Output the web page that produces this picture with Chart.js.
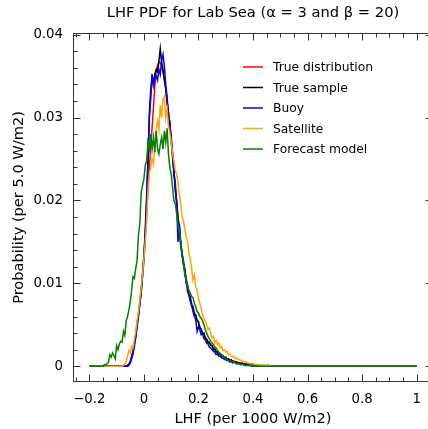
<!DOCTYPE html>
<html><head><meta charset="utf-8">
<script src="https://cdn.jsdelivr.net/npm/chart.js@4/dist/chart.umd.min.js"></script>
<style>
html,body{margin:0;padding:0;background:#fff;overflow:hidden;width:428px;height:429px}
#wrap{position:relative;width:434px;height:429px}
</style>
</head><body><div id="wrap"><canvas id="c" width="434" height="429"></canvas></div>
<script>
// ---- data (values in units of 1e-4 probability per 0.005-wide bin) ----
const titleText = 'LHF PDF for Lab Sea (\u03b1 = 3 and \u03b2 = 20)';
const xLabel = 'LHF (per 1000 W/m2)';
const yLabel = 'Probability (per 5.0 W/m2)';
const seriesNames = ['True distribution','True sample','Buoy','Satellite','Forecast model'];
const binStart = -0.2, binWidth = 0.005, tailX = 1.0, valueUnit = 1e-4;
const xTicks = [-0.2, 0, 0.2, 0.4, 0.6, 0.8, 1];
const yTicks = [0, 0.01, 0.02, 0.03, 0.04];

const trueDist = [
0,0,0,0,0,0,0,0,0,0, 0,0,0,0,0,0,0,0,0,0, 0,0,0,0,0,0,0,0,1,3,
6,11,18,27,38,50,62,74,90,110, 134,158,185,212,240,265,288,312,338,355,
363,367,366,362,355,345,334,321,307,291, 275,256,236,216,198,180,164,149,135,124,
115,106,97,89,82,76,70,65,60,56, 52,48,44,41,38,35,32,30,28,26,
24,22,20,18,17,15,14,13,12,11, 10,9,8,8,7,6,6,5,5,4,
4,4,3,3,3,3,2,2,2,2, 2,2,1,1,1,1,1,1,1,1, 1,1,1,0,0,0,0,0,0,0, 0];
const trueSample = [
0,0,0,0,0,0,0,0,0,0, 0,0,0,0,0,0,0,0,0,0, 0,0,0,0,0,0,0,0,1,2,
5,12,17,28,36,52,60,77,88,112, 132,165,205,250,305,333,349,343,352,358,
355,368,383,366,358,345,336,318,306,290, 278,252,238,212,200,178,168,145,138,122,
118,100,98,85,84,72,72,62,62,55, 54,46,45,39,40,33,33,28,29,25,
25,20,21,17,18,14,15,12,13,10, 11,8,9,7,8,6,6,5,5,4,
4,3,4,2,3,2,3,2,2,1, 2,1,1,1,1,0,1,0,1,0, 0,1,0,0,0,0,0,0,0,0, 0];
const buoy = [
0,0,0,0,0,0,0,0,0,0, 0,0,0,0,0,0,0,0,0,0, 0,0,0,0,0,0,0,0,0,1,
4,9,15,24,35,47,62,76,92,108, 128,158,198,248,300,322,352,338,346,350,
345,358,352,368,376,362,340,325,300,296, 270,258,230,222,196,150,172,150,132,128,
110,104,90,86,78,74,66,60,56,42, 48,44,38,40,33,32,28,27,23,22,
20,18,17,14,15,12,12,10,10,8, 8,7,7,5,6,4,5,4,3,3,
3,2,3,2,2,1,2,1,1,1, 1,1,0,1,0,1,0,0,0,0, 0,0,0,0,0,0,0,0,0,0, 0];
const satellite = [
0,0,0,0,0,0,0,0,0,0, 0,0,0,0,0,0,0,0,0,0, 0,0,0,0,0,1,3,6,12,19,
16,24,22,32,42,55,66,80,95,110, 130,150,175,215,232,240,250,244,265,285,
296,285,315,300,322,325,300,310,290,282, 270,256,248,236,232,222,206,196,180,176,
166,156,150,136,130,118,104,110,96,92, 82,76,70,62,58,55,50,44,46,40,
34,36,28,31,26,28,22,24,19,20, 17,18,14,15,12,11,12,9,10,8,
8,7,6,6,5,5,4,4,3,3, 3,2,2,2,1,2,1,1,1,1, 1,0,1,0,0,0,0,0,0,0, 0];
const forecast = [
0,0,0,0,0,0,0,0,0,0, 0,2,1,3,5,14,11,16,13,9, 25,20,27,30,29,42,37,55,60,68,
78,92,108,106,118,128,158,172,210,218, 226,242,248,270,262,280,262,276,258,284,
262,256,268,276,262,284,270,287,256,240, 232,216,200,196,184,170,162,150,134,124,
112,104,96,92,88,84,83,76,72,66, 64,60,58,55,50,44,40,36,33,30,
28,26,23,22,19,17,15,14,12,11, 9,8,7,7,6,5,5,4,3,3,
3,2,2,2,1,1,1,1,1,0, 0,0,0,0,0,0,0,0,0,0, 0,0,0,0,0,0,0,0,0,0, 0];

const seriesValues = [trueDist, trueSample, buoy, satellite, forecast];
const seriesColors = ['#ff0000', '#000000', '#0000ff', '#ffa500', '#008000'];

// ---- build datasets ----
function toPoints(arr){
  const pts = arr.map((v,i)=>({x: +(binStart + i*binWidth).toFixed(4), y: v*valueUnit}));
  pts.push({x: tailX, y: 0});
  return pts;
}
const datasets = seriesValues.map((arr,k)=>({
  label: seriesNames[k], data: toPoints(arr), borderColor: seriesColors[k],
  backgroundColor: seriesColors[k], borderWidth: 1.5, pointRadius: 0, tension: 0,
  fill: false, order: seriesValues.length - k
}));

const FONT = "'DejaVu Sans', sans-serif";
Chart.defaults.font.family = FONT;
Chart.defaults.color = '#000';

function fmt(v){
  if (Math.abs(v) < 1e-12) return '0';
  const s = String(+Math.abs(v).toFixed(3));
  return (v < 0 ? '\u2212' : '') + s;
}

const framePlugin = {
  id: 'frame',
  afterDraw(chart){
    const {ctx, chartArea: a, scales: {x, y}} = chart;
    ctx.save();
    // title centred over the plot area
    ctx.font = "14.7px " + FONT;
    ctx.fillStyle = '#000'; ctx.textAlign = 'center'; ctx.textBaseline = 'middle';
    ctx.fillText(titleText, (a.left + a.right) / 2, 13);

    ctx.strokeStyle = '#333'; ctx.lineWidth = 1;
    ctx.strokeRect(Math.round(a.left)+0.5, Math.round(a.top)+0.5,
                   Math.round(a.right-a.left)-1, Math.round(a.bottom-a.top)-1);
    const L = Math.round(a.left)+0.5, R = Math.round(a.right)-0.5;
    const T = Math.round(a.top)+0.5, B = Math.round(a.bottom)-0.5;
    const maj = 7, mnr = 4;
    ctx.beginPath();
    const isMajor = (v, list)=> list.some(t=>Math.abs(t-v)<1e-9);
    for (let v = -0.25; v <= x.max + 1e-9; v += 0.05) {
      const vv = +v.toFixed(4);
      const p = Math.round(x.getPixelForValue(vv)) + 0.5;
      const len = isMajor(vv, xTicks) ? maj : mnr;
      ctx.moveTo(p, B); ctx.lineTo(p, B - len);
      ctx.moveTo(p, T); ctx.lineTo(p, T + len);
    }
    for (let v = 0; v <= y.max + 1e-12; v += 0.002) {
      const vv = +v.toFixed(5);
      const p = Math.round(y.getPixelForValue(vv)) + 0.5;
      const len = isMajor(vv, yTicks) ? maj : mnr;
      ctx.moveTo(L, p); ctx.lineTo(L + len, p);
      ctx.moveTo(R, p); ctx.lineTo(R - len, p);
    }
    ctx.stroke();

    // legend
    const lx = a.left + 170, ly = a.top + 34, gap = 20.5;
    ctx.font = "12.3px " + FONT;
    ctx.textBaseline = 'middle'; ctx.textAlign = 'left';
    chart.data.datasets.forEach((ds, i)=>{
      const yy = ly + i*gap;
      ctx.strokeStyle = ds.borderColor; ctx.lineWidth = 1.5;
      ctx.beginPath(); ctx.moveTo(lx, yy); ctx.lineTo(lx+20, yy); ctx.stroke();
      ctx.fillStyle = '#000';
      ctx.fillText(ds.label, lx + 30, yy + 1);
    });
    ctx.restore();
  }
};

new Chart(document.getElementById('c'), {
  type: 'line',
  data: { datasets },
  options: {
    responsive: false, animation: false, devicePixelRatio: 1,
    layout: { padding: { left: 0, right: 1, top: 33, bottom: 0 } },
    plugins: {
      legend: { display: false }, tooltip: { enabled: false }, title: { display: false }
    },
    scales: {
      x: {
        type: 'linear', min: -0.26, max: 1.06,
        grid: { display: false, drawTicks: false }, border: { display: false },
        afterBuildTicks: s => { s.ticks = xTicks.map(v => ({ value: v })); },
        afterFit: s => { s.height = 47; },
        ticks: { callback: v => fmt(v), font: { size: 13.3 }, padding: 10, maxRotation: 0, autoSkip: false },
        title: { display: true, text: xLabel, font: { size: 14.6 }, padding: { top: 0, bottom: 1 } }
      },
      y: {
        type: 'linear', min: -0.0019, max: 0.0402,
        grid: { display: false, drawTicks: false }, border: { display: false },
        afterBuildTicks: s => { s.ticks = yTicks.map(v => ({ value: v })); },
        afterFit: s => { s.width = 73; },
        ticks: { callback: v => fmt(v), font: { size: 13.3 }, padding: 10 },
        title: { display: true, text: yLabel, font: { size: 14.6 }, padding: { top: 10, bottom: 0 } }
      }
    }
  },
  plugins: [framePlugin]
});
</script>
</body></html>
